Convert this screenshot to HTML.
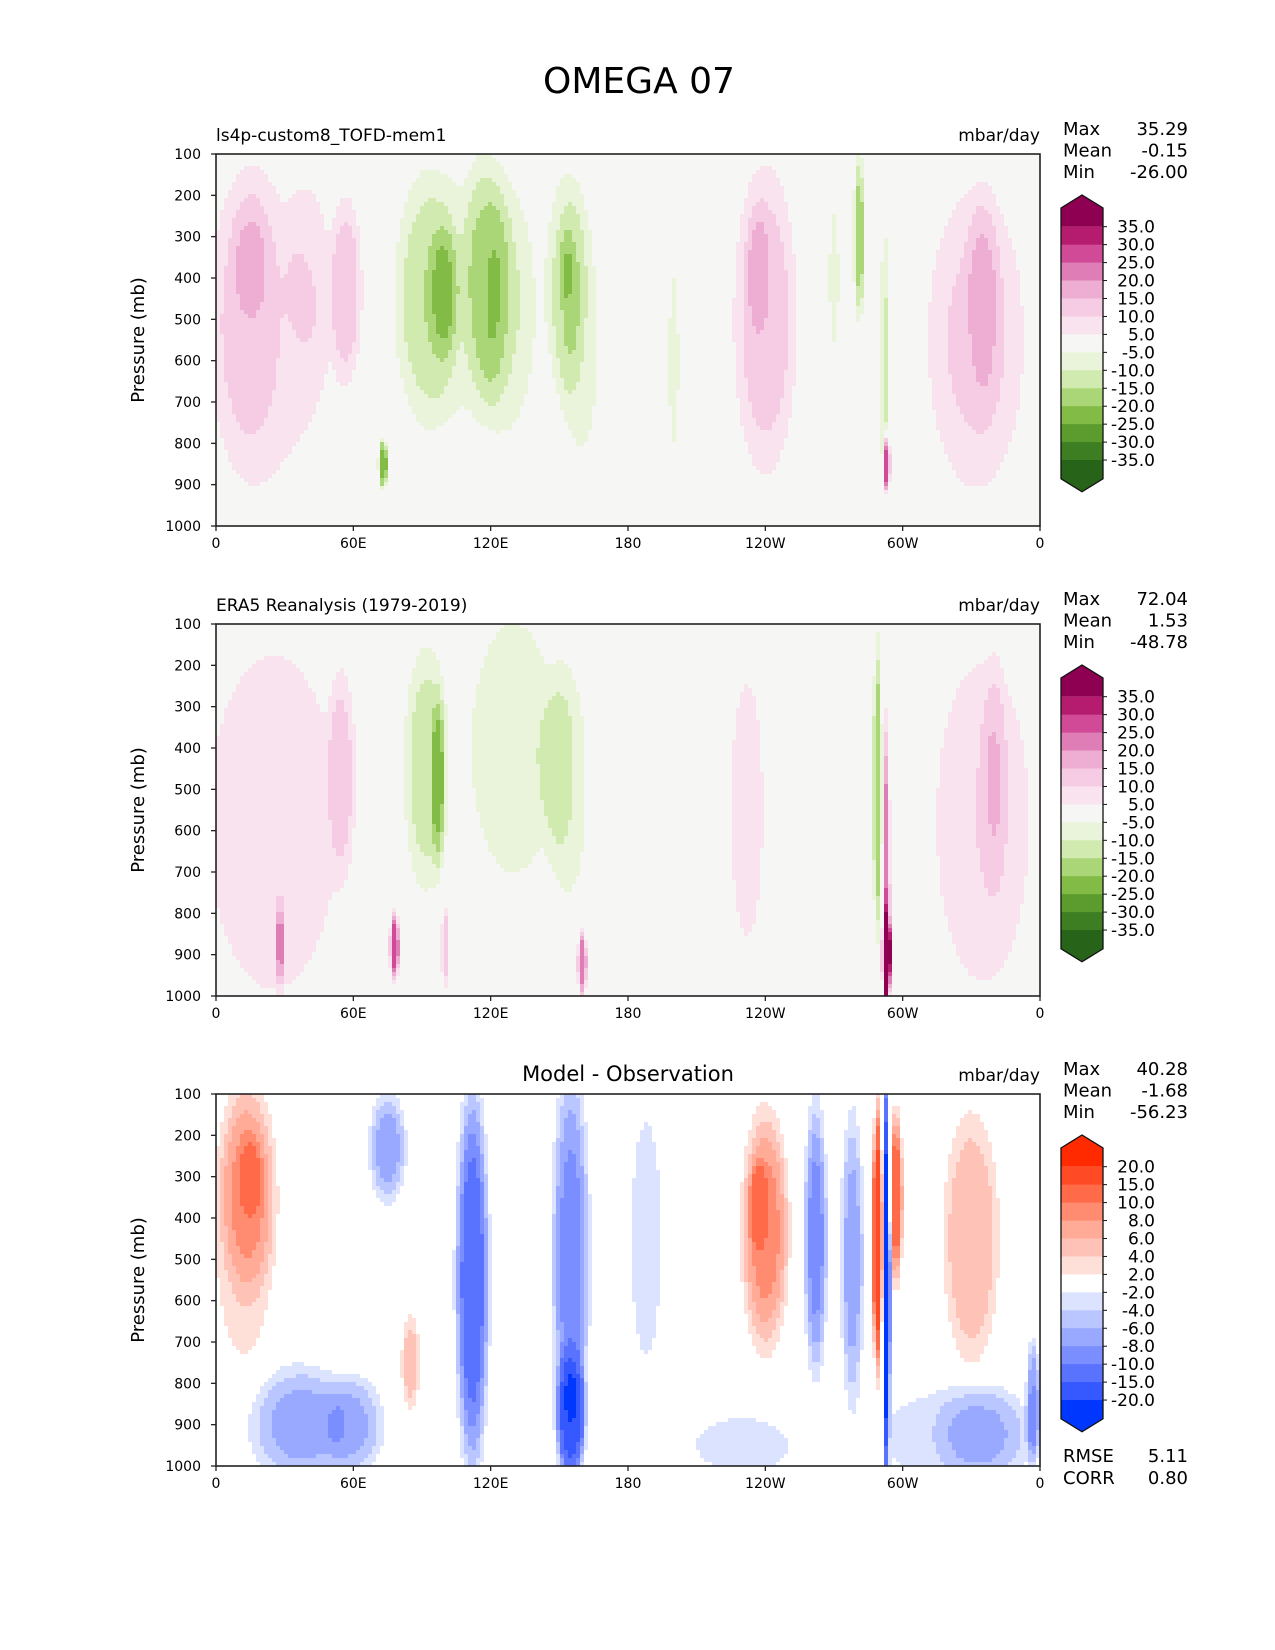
<!DOCTYPE html>
<html><head><meta charset="utf-8"><style>
body{margin:0;background:#fff;}
svg{display:block;font-family:"DejaVu Sans","Liberation Sans",sans-serif;}
</style></head><body>
<svg id="fig" width="1275" height="1650" viewBox="0 0 1275 1650">
<text x="639" y="93" font-size="36" text-anchor="middle">OMEGA 07</text>
</svg>
<script>
// ---- data ----
const xTickLabels = ["0","60E","120E","180","120W","60W","0"];
const xTickLons = [0,60,120,180,240,300,360];
const yTickLabels = ["100","200","300","400","500","600","700","800","900","1000"];
const yTickVals = [100,200,300,400,500,600,700,800,900,1000];
const levelsAbs = [-35,-30,-25,-20,-15,-10,-5,5,10,15,20,25,30,35];
const colorsAbs = ["#276419","#3e7e22","#5c9c2f","#82bb46","#aad678","#d0eab0","#e9f4da","#f6f6f4","#f9e3ef","#f6cce4","#eeaed3","#df7eb6","#d04a97","#b51c6f","#8e0152"];
const levelsDiff = [-20,-15,-10,-8,-6,-4,-2,2,4,6,8,10,15,20];
const colorsDiff = ["#0037ff","#3558ff","#5a73ff","#7a8eff","#98a9ff","#b9c6ff","#dce3ff","#ffffff","#ffe0d9","#ffc2b6","#ffab98","#ff8c70","#ff6a48","#ff4a26","#ff2a00"];
const levelLabelsAbs = ["35.0","30.0","25.0","20.0","15.0","10.0","5.0","-5.0","-10.0","-15.0","-20.0","-25.0","-30.0","-35.0"];
const levelLabelsDiff = ["20.0","15.0","10.0","8.0","6.0","4.0","2.0","-2.0","-4.0","-6.0","-8.0","-10.0","-15.0","-20.0"];
// panel 1 features
const p1Lon = [14,15,40,57,92,100,118,128,153,153,73,240,237,281,270,292,293,332,335,200,25,110,160];
const p1P   = [480,350,400,420,450,430,400,500,420,380,850,500,380,300,400,600,850,550,450,600,560,450,560];
const p1LonW= [16,8,10,7,14,6,10,12,9,3,2,14,5,2.5,2.5,1.5,1.5,22,7,3,32,30,10];
const p1PW  = [380,150,250,220,320,150,300,350,280,100,60,380,150,200,200,350,70,380,250,300,420,330,380];
const p1Amp = [7,5,5,12,-9,-8,-10,-5,-11,-6,-25,13,6,-18,-7,-12,35,11,7,-6,6,-7,-6];
// panel 2 features
const p2Lon = [25,55,78,28,100,160,92,97,130,150,232,289,293,293,335,340,155];
const p2P   = [580,450,880,880,880,920,450,480,400,450,550,500,750,900,580,450,500];
const p2LonW= [32,6,2,2,1.5,2,10,3,20,8,9,2,1.5,2,22,5,10];
const p2PW  = [460,250,80,100,100,80,300,200,330,250,400,350,400,100,420,250,350];
const p2Amp = [9,10,30,15,15,25,-13,-12,-10,-5,7,-20,25,40,10,6,-6];
// panel 3 features
const p3Lon = [14,15,35,60,75,112,155,155,85,240,237,262,278,289,293,297,330,335,357,188,230,45,320,12];
const p3P   = [330,300,900,900,230,550,500,880,750,430,370,450,500,450,550,350,450,920,850,450,950,900,930,450];
const p3LonW= [12,5,20,12,8,7,8,6,4,10,4,5,5,2,1.5,3,12,20,3,8,25,30,35,14];
const p3PW  = [250,100,150,120,130,450,450,150,120,280,100,320,350,300,460,200,300,120,150,350,80,130,130,350];
const p3Amp = [6,3,-4,-4,-7,-12,-9,-15,5,9,5,-9,-7,20,-25,12,6,-4,-8,-3,-3,-3,-3,3];

const panels = [
 {top:154, sub:"ls4p-custom8_TOFD-mem1", stats:[["Max","35.29"],["Mean","-0.15"],["Min","-26.00"]], lon:p1Lon,p:p1P,lw:p1LonW,pw:p1PW,amp:p1Amp, lev:levelsAbs, col:colorsAbs, labs:levelLabelsAbs},
 {top:624, sub:"ERA5 Reanalysis (1979-2019)", stats:[["Max","72.04"],["Mean","1.53"],["Min","-48.78"]], lon:p2Lon,p:p2P,lw:p2LonW,pw:p2PW,amp:p2Amp, lev:levelsAbs, col:colorsAbs, labs:levelLabelsAbs},
 {top:1094, sub:"", title:"Model - Observation", stats:[["Max","40.28"],["Mean","-1.68"],["Min","-56.23"]], lon:p3Lon,p:p3P,lw:p3LonW,pw:p3PW,amp:p3Amp, lev:levelsDiff, col:colorsDiff, labs:levelLabelsDiff}
];
const NS="http://www.w3.org/2000/svg";
const fig=document.getElementById('fig');
function mk(tag,attrs,parent,text){const e=document.createElementNS(NS,tag);for(const k in attrs)e.setAttribute(k,attrs[k]);if(text!==undefined)e.textContent=text;(parent||fig).appendChild(e);return e;}
const X0=216,X1=1040,H=372;
function xScale(lon){return X0+(lon/360)*(X1-X0);}
function colorFor(v,lev,col){let i=0;while(i<lev.length&&v>=lev[i])i++;return col[i];}

panels.forEach((P,pi)=>{
  const top=P.top,bot=top+H;
  const yScale=p=>top+(p-100)/900*H;
  const g=mk('g',{});
  
  
  const field=mk('g',{},g);
  
  
  const nx=206,ny=93,cw=(X1-X0)/nx,ch=H/ny;
  for(let j=0;j<ny;j++){
    const pr=100+(j+0.5)/ny*900;
    let runStart=0,runCol=null;
    for(let i=0;i<=nx;i++){
      let c=null;
      if(i<nx){
        const lo=(i+0.5)/nx*360;let v=0;
        for(let k=0;k<P.lon.length;k++){
          const dx=(lo-P.lon[k])/P.lw[k],dp=(pr-P.p[k])/P.pw[k];
          const r=dx*dx+dp*dp;v+=P.amp[k]*Math.exp(-r*r);
        }
        c=colorFor(v,P.lev,P.col);
      }
      if(c!==runCol){
        if(runCol!==null){
          const r=mk('rect',{x:(X0+runStart*cw).toFixed(2),y:(top+j*ch).toFixed(2),width:((i-runStart)*cw+0.6).toFixed(2),height:(ch+0.6).toFixed(2),fill:runCol},field);
          
          
        }
        runStart=i;runCol=c;
      }
    }
  }
  const fr=mk('rect',{x:X0,y:top,width:X1-X0,height:H,fill:'none',stroke:'#222','stroke-width':1.6},g);
  
  
  xTickLons.forEach((lo,i)=>{
    const x=xScale(lo);
    mk('line',{x1:x,x2:x,y1:bot,y2:bot+5,stroke:'#222','stroke-width':1.3},g);
    const t=mk('text',{x:x,y:bot+22,'font-size':14,'text-anchor':'middle'},g,xTickLabels[i]);
    
    
  });
  yTickVals.forEach((pv,i)=>{
    const y=yScale(pv);
    mk('line',{x1:X0-5,x2:X0,y1:y,y2:y,stroke:'#222','stroke-width':1.3},g);
    const t=mk('text',{x:201,y:y+5,'font-size':14,'text-anchor':'end'},g,yTickLabels[i]);
    
    
  });
  const yt=mk('text',{x:0,y:0,'font-size':18,'text-anchor':'middle',transform:`translate(144,${top+H/2}) rotate(-90)`},g,'Pressure (mb)');
  
  
  if(P.sub){const s=mk('text',{x:X0,y:top-13,'font-size':17},g,P.sub);
    
    }
  if(P.title){const s=mk('text',{x:(X0+X1)/2,y:top-13,'font-size':21,'text-anchor':'middle'},g,P.title);
    
    }
  const u=mk('text',{x:X1,y:top-13,'font-size':17,'text-anchor':'end'},g,'mbar/day');
  
  
  P.stats.forEach((s,i)=>{
    const yy=top-19+i*21.5;
    const a=mk('text',{x:1063,y:yy,'font-size':18},g,s[0]);
    
    
    const b=mk('text',{x:1188,y:yy,'font-size':18,'text-anchor':'end'},g,s[1]);
    
    
  });
  const cb=mk('g',{},g);
  
  
  const cx0=1061,cx1=1103,off=top-154;
  const b0=226.7+off,step=17.95,n=P.lev.length;
  const topSh=208+off,tip=195+off;
  const lastB=b0+(n-1)*step,botSh=lastB+(b0-topSh),botTip=botSh+13;
  mk('polygon',{points:`${cx0},${b0} ${cx0},${topSh} ${(cx0+cx1)/2},${tip} ${cx1},${topSh} ${cx1},${b0}`,fill:P.col[P.col.length-1]},cb);
  for(let k=0;k<n-1;k++){
    mk('rect',{x:cx0,y:b0+k*step,width:cx1-cx0,height:step+0.5,fill:P.col[P.col.length-2-k]},cb);
  }
  mk('polygon',{points:`${cx0},${lastB} ${cx0},${botSh} ${(cx0+cx1)/2},${botTip} ${cx1},${botSh} ${cx1},${lastB}`,fill:P.col[0]},cb);
  mk('polygon',{points:`${cx0},${topSh} ${(cx0+cx1)/2},${tip} ${cx1},${topSh} ${cx1},${botSh} ${(cx0+cx1)/2},${botTip} ${cx0},${botSh}`,fill:'none',stroke:'#111','stroke-width':1.3},cb);
  P.labs.forEach((l,k)=>{
    const y=b0+k*step;
    mk('line',{x1:cx1,x2:cx1+4,y1:y,y2:y,stroke:'#111','stroke-width':1},cb);
    const t=mk('text',{x:1155,y:y+6,'font-size':17,'text-anchor':'end'},cb,l);
    
    
  });
});
[["RMSE","5.11",1462],["CORR","0.80",1484]].forEach(s=>{
  const a=mk('text',{x:1063,y:s[2],'font-size':18},fig,s[0]);
  
  
  const b=mk('text',{x:1188,y:s[2],'font-size':18,'text-anchor':'end'},fig,s[1]);
  
  
});
</script>
</body></html>
